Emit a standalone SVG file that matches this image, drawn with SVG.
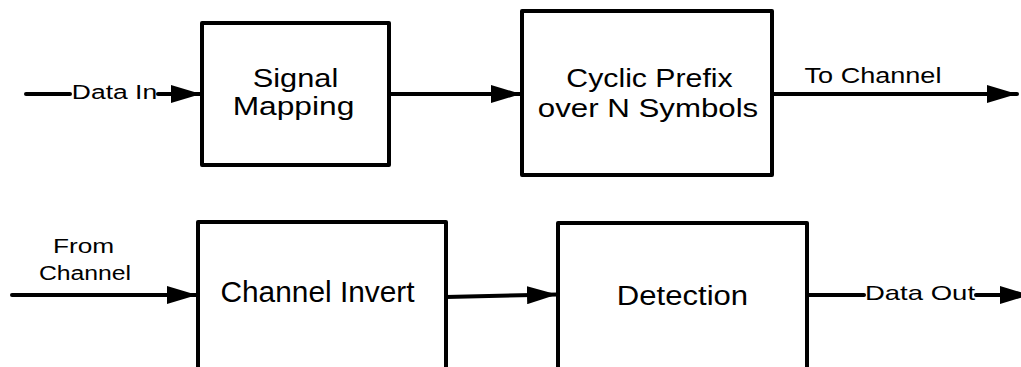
<svg xmlns="http://www.w3.org/2000/svg" width="1021" height="367" viewBox="0 0 1021 367">
  <style>
    .box { fill: #ffffff; stroke: #000000; stroke-width: 4; stroke-linejoin: round; }
    .wire { fill: none; stroke: #000000; stroke-width: 4; stroke-linecap: round; }
    .lbl { font-family: "Liberation Sans", Arial, sans-serif; fill: #000000; text-anchor: middle; }
  </style>
  <defs>
    <marker id="arrow" markerUnits="userSpaceOnUse" markerWidth="30" markerHeight="18" refX="30" refY="9" orient="auto">
      <path d="M0,0 L30,9 L0,18 Z" fill="#000000"/>
    </marker>
  </defs>

  <rect width="1021" height="367" fill="#ffffff"/>

  <!-- transmitter chain -->
  <g id="signal-mapping">
    <rect class="box" x="202" y="23" width="187" height="142"/>
    <text class="lbl" font-size="25" transform="translate(295.5,87) scale(1.23,1)">Signal</text>
    <text class="lbl" font-size="25" transform="translate(293.5,115) scale(1.27,1)">Mapping</text>
  </g>

  <g id="cyclic-prefix">
    <rect class="box" x="522" y="11" width="250" height="164"/>
    <text class="lbl" font-size="25" transform="translate(649.5,87) scale(1.21,1)">Cyclic Prefix</text>
    <text class="lbl" font-size="25" transform="translate(648,117) scale(1.25,1)">over N Symbols</text>
  </g>

  <!-- receiver chain -->
  <g id="channel-invert">
    <rect class="box" x="198" y="222" width="248" height="170"/>
    <text class="lbl" font-size="29" transform="translate(317.5,302) scale(1.03,1)">Channel Invert</text>
  </g>

  <g id="detection">
    <rect class="box" x="558" y="223" width="249" height="170"/>
    <text class="lbl" font-size="28" transform="translate(682.5,305) scale(1.11,1)">Detection</text>
  </g>

  <g id="connectors">
    <!-- Data In -->
    <line class="wire" x1="26" y1="94" x2="70" y2="94"/>
    <text class="lbl" font-size="21" transform="translate(114.5,99) scale(1.26,1)">Data In</text>
    <line class="wire" x1="158" y1="94" x2="201" y2="94" marker-end="url(#arrow)"/>

    <!-- Signal Mapping to Cyclic Prefix -->
    <line class="wire" x1="389" y1="94" x2="521" y2="94" marker-end="url(#arrow)"/>

    <!-- To Channel -->
    <line class="wire" x1="772" y1="94" x2="1017" y2="94" marker-end="url(#arrow)"/>
    <text class="lbl" font-size="22" transform="translate(873,83) scale(1.23,1)">To Channel</text>

    <!-- From Channel -->
    <text class="lbl" font-size="21" transform="translate(83.5,253) scale(1.25,1)">From</text>
    <text class="lbl" font-size="21" transform="translate(85,280) scale(1.18,1)">Channel</text>
    <line class="wire" x1="12" y1="295" x2="197" y2="295" marker-end="url(#arrow)"/>

    <!-- Channel Invert to Detection -->
    <line class="wire" x1="446" y1="297" x2="557" y2="294.5" marker-end="url(#arrow)"/>

    <!-- Data Out -->
    <line class="wire" x1="807" y1="295" x2="864" y2="295"/>
    <text class="lbl" font-size="21" transform="translate(920,300) scale(1.31,1)">Data Out</text>
    <line class="wire" x1="976" y1="295" x2="1030" y2="295" marker-end="url(#arrow)"/>
  </g>
</svg>
